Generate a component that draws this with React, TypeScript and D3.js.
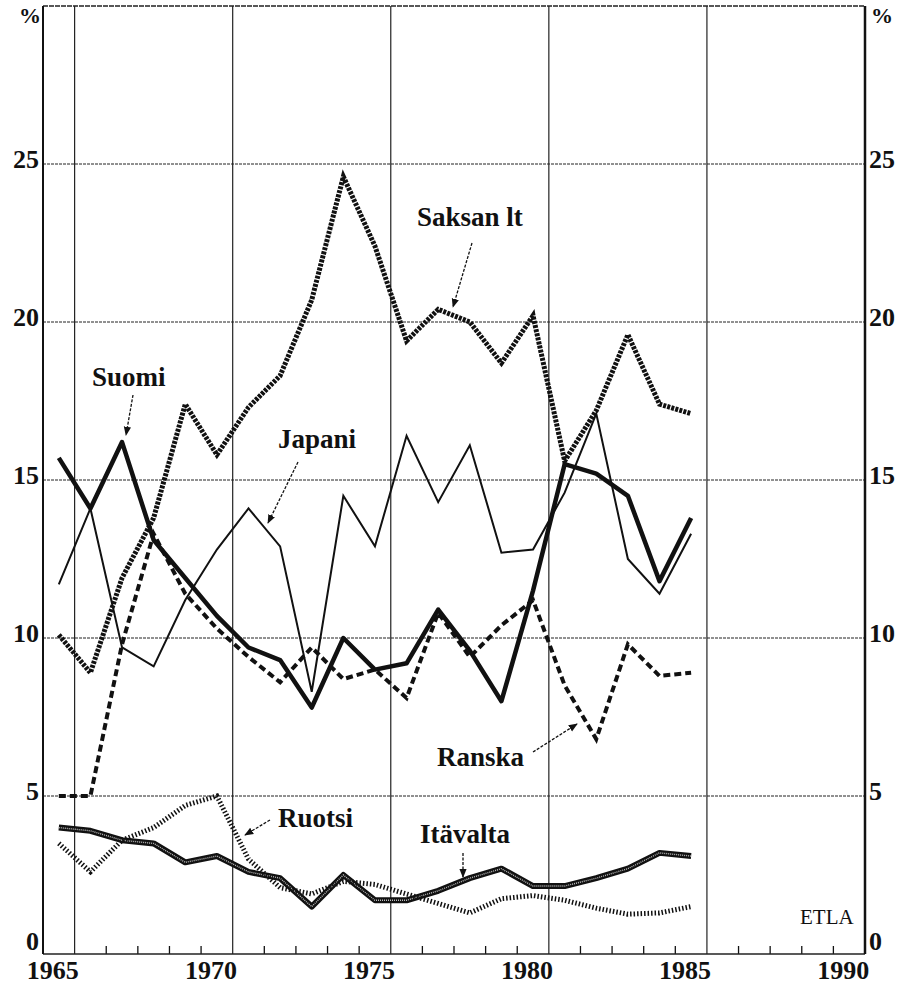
import * as d3 from "d3";

// vuodet 1965-1985
const years = [
  1965, 1966, 1967, 1968, 1969, 1970, 1971, 1972, 1973, 1974, 1975,
  1976, 1977, 1978, 1979, 1980, 1981, 1982, 1983, 1984, 1985,
];

const suomi = [15.7, 14.1, 16.2, 13.1, 11.9, 10.7, 9.7, 9.3, 7.8, 10.0, 9.0, 9.2, 10.9, 9.6, 8.0, 11.5, 15.5, 15.2, 14.5, 11.8, 13.8];
const japani = [11.7, 14.1, 9.7, 9.1, 11.2, 12.8, 14.1, 12.9, 8.3, 14.5, 12.9, 16.4, 14.3, 16.1, 12.7, 12.8, 14.6, 17.1, 12.5, 11.4, 13.3];
const saksanLt = [10.1, 8.9, 11.9, 13.8, 17.4, 15.8, 17.3, 18.3, 20.7, 24.6, 22.4, 19.4, 20.4, 20.0, 18.7, 20.2, 15.6, 17.2, 19.6, 17.4, 17.1];
const ranska = [5.0, 5.0, 9.8, 13.3, 11.4, 10.3, 9.4, 8.6, 9.7, 8.7, 9.0, 8.1, 10.8, 9.4, 10.4, 11.2, 8.5, 6.8, 9.8, 8.8, 8.9];
const ruotsi = [3.5, 2.6, 3.6, 4.0, 4.7, 5.0, 3.0, 2.1, 1.9, 2.3, 2.2, 1.9, 1.6, 1.3, 1.75, 1.85, 1.7, 1.45, 1.26, 1.3, 1.5];
const itavalta = [4.0, 3.9, 3.6, 3.5, 2.9, 3.1, 2.6, 2.4, 1.5, 2.5, 1.7, 1.7, 2.0, 2.4, 2.7, 2.15, 2.15, 2.4, 2.7, 3.2, 3.1];

const xTickLabels = [1965, 1970, 1975, 1980, 1985, 1990];
const yTicks = [0, 5, 10, 15, 20, 25];

const W = 908;
const H = 990;
const FONT = "'Liberation Serif', 'DejaVu Serif', serif";

const x = d3.scaleLinear().domain([1964.5, 1990.5]).range([43, 865]);
const y = d3.scaleLinear().domain([0, 30]).range([954, 6]);

const line = d3
  .line<number>()
  .x((_, i) => x(years[i]))
  .y((d) => y(d));

// tekstit ja nuolet
const labels = [
  { text: "Saksan lt", x: 417, y: 226 },
  { text: "Suomi", x: 92, y: 386 },
  { text: "Japani", x: 278, y: 448 },
  { text: "Ranska", x: 437, y: 766 },
  { text: "Ruotsi", x: 278, y: 827 },
  { text: "Itävalta", x: 420, y: 843 },
];

const arrows = [
  { x1: 472, y1: 243, x2: 453, y2: 307 },
  { x1: 133, y1: 395, x2: 126, y2: 435 },
  { x1: 298, y1: 462, x2: 268, y2: 523 },
  { x1: 533, y1: 752, x2: 577, y2: 724 },
  { x1: 270, y1: 820, x2: 245, y2: 835 },
  { x1: 463, y1: 853, x2: 463, y2: 877 },
];

export default function App() {
  const gridYears = xTickLabels.slice(0, -1).map((v) => v + 0.5);
  const minorYears = d3.range(1965.5, 1990.5, 1).filter((v) => (v - 0.5) % 5 !== 0);

  return (
    <svg
      width={W}
      height={H}
      style={{ position: "absolute", left: 0, top: 0, background: "#fff" }}
      fontFamily={FONT}
    >
      <defs>
        <marker id="arr" viewBox="0 0 10 10" refX="9" refY="5" markerWidth="7" markerHeight="7" orient="auto-start-reverse">
          <path d="M0,1 L10,5 L0,9 z" fill="#111" />
        </marker>
      </defs>
      <rect width={W} height={H} fill="#fff" />

      {/* vaakaviivat */}
      {yTicks.slice(1).map((t) => (
        <line key={"h" + t} x1={x(1964.5)} x2={x(1990.5)} y1={y(t)} y2={y(t)} stroke="#222" strokeWidth={1} strokeDasharray="3,1" />
      ))}
      {/* pystyviivat */}
      {gridYears.map((g) => (
        <line key={"v" + g} x1={x(g)} x2={x(g)} y1={y(30)} y2={y(0)} stroke="#222" strokeWidth={1.2} />
      ))}
      {/* pienet jakoviivat */}
      {minorYears.map((m) => (
        <line key={"m" + m} x1={x(m)} x2={x(m)} y1={y(0)} y2={y(0) - 8} stroke="#111" strokeWidth={1.3} />
      ))}

      {/* kehys */}
      <line x1={x(1964.5)} x2={x(1990.5)} y1={y(30)} y2={y(30)} stroke="#222" strokeWidth={1.5} strokeDasharray="5,1" />
      <line x1={x(1964.5)} x2={x(1990.5)} y1={y(0)} y2={y(0)} stroke="#222" strokeWidth={1.6} />
      <line x1={x(1964.5)} x2={x(1964.5)} y1={y(30)} y2={y(0)} stroke="#111" strokeWidth={2} />
      <line x1={x(1990.5)} x2={x(1990.5)} y1={y(30)} y2={y(0)} stroke="#111" strokeWidth={2.5} />

      {/* sarjat */}
      <path d={line(itavalta) ?? ""} fill="none" stroke="#111" strokeWidth={6} strokeLinejoin="round" />
      <path d={line(itavalta) ?? ""} fill="none" stroke="#bbb" strokeWidth={1.4} strokeDasharray="1,1" />
      <path d={line(ruotsi) ?? ""} fill="none" stroke="#111" strokeWidth={5} strokeDasharray="1.5,2" />
      <path d={line(ranska) ?? ""} fill="none" stroke="#111" strokeWidth={4} strokeDasharray="7,4" />
      <path d={line(japani) ?? ""} fill="none" stroke="#111" strokeWidth={2} strokeLinejoin="miter" />
      <path d={line(saksanLt) ?? ""} fill="none" stroke="#111" strokeWidth={5} strokeDasharray="3,1.2" />
      <path d={line(suomi) ?? ""} fill="none" stroke="#111" strokeWidth={4.5} strokeLinejoin="round" />

      {/* akselien tekstit */}
      {yTicks.map((t) => (
        <text key={"yl" + t} x={39} y={t === 0 ? y(t) - 4 : y(t) + 4} textAnchor="end" fontSize={26} fontWeight="bold" fill="#111">
          {t}
        </text>
      ))}
      {yTicks.map((t) => (
        <text key={"yr" + t} x={869} y={t === 0 ? y(t) - 4 : y(t) + 4} textAnchor="start" fontSize={26} fontWeight="bold" fill="#111">
          {t}
        </text>
      ))}
      <text x={30} y={23} textAnchor="middle" fontSize={22} fontWeight="bold" fill="#111">%</text>
      <text x={882} y={23} textAnchor="middle" fontSize={22} fontWeight="bold" fill="#111">%</text>
      {xTickLabels.map((t) => (
        <text key={"xl" + t} x={x(t) - 6} y={979} textAnchor="middle" fontSize={26} fontWeight="bold" fill="#111">
          {t}
        </text>
      ))}

      {/* sarjojen nimet */}
      {labels.map((l) => (
        <text key={l.text} x={l.x} y={l.y} fontSize={27} fontWeight="bold" fill="#111">
          {l.text}
        </text>
      ))}
      {arrows.map((a, i) => (
        <line key={"a" + i} x1={a.x1} y1={a.y1} x2={a.x2} y2={a.y2} stroke="#111" strokeWidth={1.3} strokeDasharray="3,1.5" markerEnd="url(#arr)" />
      ))}
      <text x={800} y={924} fontSize={21} fill="#111">ETLA</text>
    </svg>
  );
}
